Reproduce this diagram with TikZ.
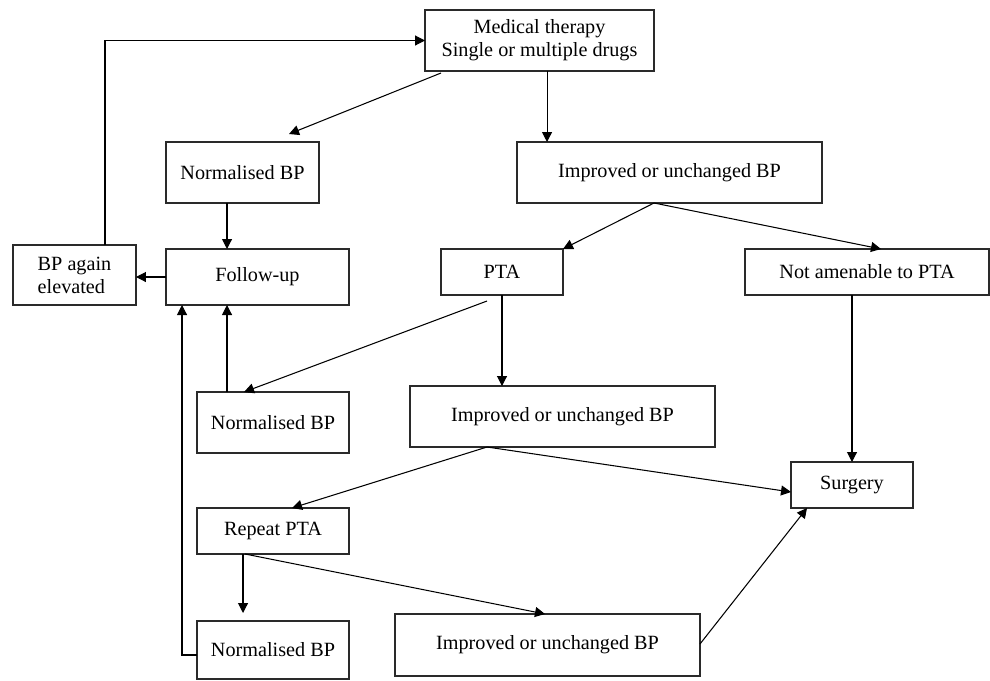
\documentclass[tikz,border=0pt]{standalone}
\usepackage{fontspec}
\setmainfont{Liberation Serif}
\usetikzlibrary{arrows.meta,calc}
\definecolor{bxline}{HTML}{2A2A2A}

\tikzset{
  box/.style={draw=bxline, line width=0.7pt, inner sep=0pt, outer sep=0pt,
    font=\fontsize{11.5}{13}\selectfont, align=center},
  arr/.style={draw=black, line width=0.6pt, -{Triangle[length=2mm,width=2mm]}}
}

\begin{document}
\begin{tikzpicture}[x=0.02cm, y=-0.02cm]
  \useasboundingbox (0,0) rectangle (990,680);
  % boxes (centres in pixel units)
  \node[box, minimum width=4.58cm, minimum height=1.22cm] (med)    at (539.5,40.5) {Medical therapy\\Single or multiple drugs};
  \node[box, minimum width=3.06cm, minimum height=1.22cm] (norm1)  at (242.5,172.5) {Normalised BP};
  \node[box, minimum width=6.10cm, minimum height=1.22cm] (imp1)   at (669.5,172.5) {Improved or unchanged BP};
  \node[box, minimum width=2.46cm, minimum height=1.20cm, align=left] (again) at (74.5,275) {BP again\\elevated};
  \node[box, minimum width=3.66cm, minimum height=1.12cm] (follow) at (257.5,277) {Follow-up};
  \node[box, minimum width=2.44cm, minimum height=0.92cm] (pta)    at (502,272) {PTA};
  \node[box, minimum width=4.88cm, minimum height=0.92cm] (notam)  at (867,272) {Not amenable to PTA};
  \node[box, minimum width=3.04cm, minimum height=1.22cm] (norm2)  at (273,422.5) {Normalised BP};
  \node[box, minimum width=6.10cm, minimum height=1.22cm] (imp2)   at (562.5,416.5) {Improved or unchanged BP};
  \node[box, minimum width=2.44cm, minimum height=0.92cm] (surg)   at (852,485) {Surgery};
  \node[box, minimum width=3.04cm, minimum height=0.92cm] (rep)    at (273,531) {Repeat PTA};
  \node[box, minimum width=3.04cm, minimum height=1.16cm] (norm3)  at (273,650) {Normalised BP};
  \node[box, minimum width=6.10cm, minimum height=1.24cm] (imp3)   at (547.5,645) {Improved or unchanged BP};

  % medical therapy
  \draw[arr] ($(med.south west)+(16,2)$) -- ($(norm1.north west)+(123,-8)$);
  \draw[arr] ($(med.south west)+(122,0)$) coordinate (m1) -- (m1 |- imp1.north);
  \draw[arr] ($(norm1.south west)+(61,0)$) coordinate (n1) -- (n1 |- follow.north);
  \draw[arr] ($(imp1.south west)+(137,0)$) -- (pta.north east);
  \draw[arr] ($(imp1.south west)+(137,0)$) -- ($(notam.north west)+(136,0)$);
  % follow-up loop
  \draw[arr] (follow.west) -- (follow.west -| again.east);
  \draw[arr] ($(again.north west)+(92,0)$) |- (med.west);
  % PTA
  \draw[arr] ($(pta.south west)+(46,6)$) -- ($(norm2.north west)+(47,0)$);
  \draw[arr] (pta.south) -- (pta.south |- imp2.north);
  \draw[arr] ($(norm2.north west)+(30,0)$) coordinate (n2) -- (n2 |- follow.south);
  \draw[arr] (surg.north |- notam.south) -- (surg.north);
  \draw[arr] ($(imp2.south west)+(77,0)$) -- ($(rep.north west)+(95,0)$);
  \draw[arr] ($(imp2.south west)+(77,0)$) -- ($(surg.south west)+(0,-16)$);
  % repeat PTA
  \draw[arr] ($(rep.south west)+(46,0)$) -- ($(norm3.north west)+(46,-8)$);
  \draw[arr] ($(rep.south west)+(48,0)$) -- ($(imp3.north west)+(150,0)$);
  \draw[arr] ($(norm3.west)+(0,5)$) -| ($(follow.south west)+(16,0)$);
  \draw[arr] ($(imp3.east)+(0,-1)$) -- ($(surg.south west)+(16,0)$);
\end{tikzpicture}
\end{document}
